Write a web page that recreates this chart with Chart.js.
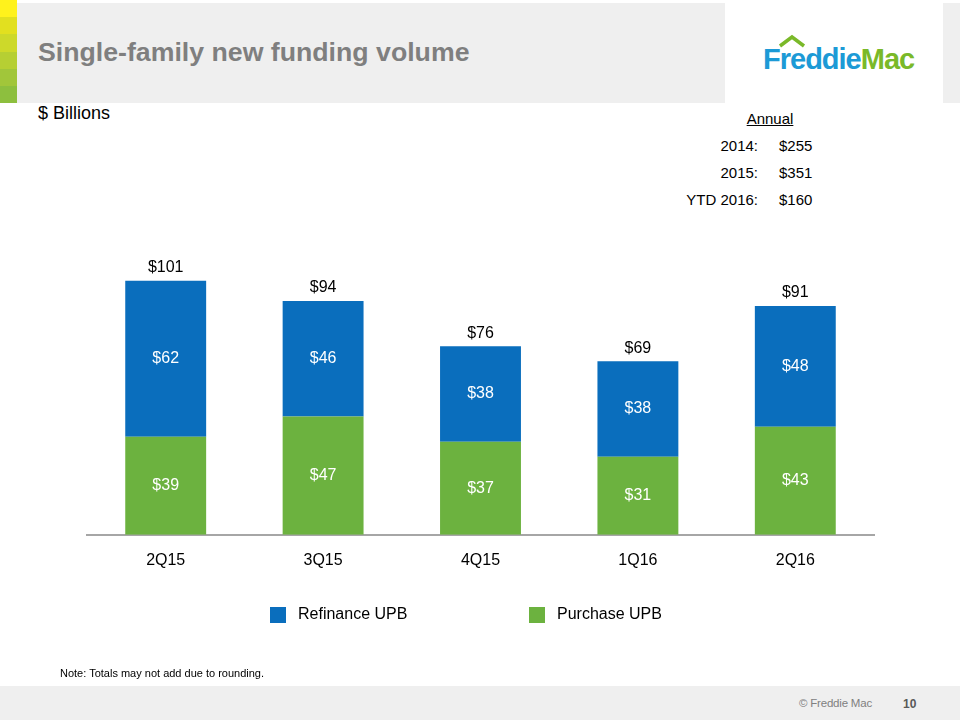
<!DOCTYPE html>
<html lang="en">
<head>
    <meta charset="UTF-8">
    <title>Single-family new funding volume</title>
    <style>
      body { margin: 0; width: 960px; height: 720px; position: relative; overflow: hidden; background: #fff; font-family: "Liberation Sans", Arial, sans-serif; }
      .abs { position: absolute; }
      #head { left: 17px; top: 3px; width: 708px; height: 100px; background: #efefef; }
      #headR { left: 943px; top: 3px; width: 17px; height: 100px; background: #efefef; }
      #strip { left: 0; top: 0; width: 17px; height: 103px; }
      #strip div { height: 17.2px; }
      #title { left: 38px; top: 37px; font-size: 26.7px; font-weight: bold; color: #7f7f7f; white-space: nowrap; }
      #units { left: 38px; top: 103px; font-size: 18px; color: #000; }
      #logo { left: 763px; top: 43px; font-size: 29px; font-weight: bold; letter-spacing: -1px; white-space: nowrap; }
      #annual { left: 680px; top: 110px; width: 160px; font-size: 15px; color: #000; }
      #annual .h { position: absolute; left: 50px; top: 0; width: 80px; text-align: center; text-decoration: underline; }
      #annual .r { position: absolute; left: 0; width: 152px; }
      #annual .r span.k { position: absolute; right: 74px; text-align: right; white-space: nowrap; }
      #annual .r span.v { position: absolute; left: 99px; }
      #legend div { position: absolute; font-size: 16px; color: #000; white-space: nowrap; }
      #legend i { position: absolute; width: 16px; height: 16px; }
      #note { left: 60px; top: 667px; font-size: 11px; color: #000; }
      #foot { left: 0; top: 686px; width: 960px; height: 34px; background: #efefef; }
      #copy { left: 799px; top: 697px; font-size: 11.5px; color: #808080; letter-spacing: -0.2px; }
      #page { left: 903px; top: 697px; font-size: 12px; font-weight: bold; color: #595959; }
    </style>
</head>
<body>
    <div class="abs" id="head"></div>
    <div class="abs" id="headR"></div>
    <div class="abs" id="strip">
      <div style="background:#fff21c"></div>
      <div style="background:#e2e01f"></div>
      <div style="background:#cdd92a"></div>
      <div style="background:#b6cf33"></div>
      <div style="background:#a1c63a"></div>
      <div style="background:#8dbf3e"></div>
    </div>
    <div class="abs" id="title">Single-family new funding volume</div>
    <div class="abs" id="logo"><span style="color:#1c9ad6">Freddie</span><span style="color:#7ab929">Mac</span></div>
    <svg class="abs" style="left:778px;top:34px" width="30" height="14"><polyline points="2,12 14,3 26,12" fill="none" stroke="#7ab929" stroke-width="3.5"/></svg>
    <div class="abs" id="units">$ Billions</div>

    <div class="abs" id="annual"></div>

    <canvas id="grafico1" class="abs" style="left:0;top:0" width="960" height="720"></canvas>

    <div class="abs" id="legend" style="left:0;top:0"></div>

    <div class="abs" id="note">Note: Totals may not add due to rounding.</div>
    <div class="abs" id="foot"></div>
    <div class="abs" id="copy">© Freddie Mac</div>
    <div class="abs" id="page">10</div>

    <script src="https://cdn.jsdelivr.net/npm/chart.js"></script>
    <script>
      const quarters = ['2Q15', '3Q15', '4Q15', '1Q16', '2Q16'];
      const refinance = [62, 46, 38, 38, 48];
      const purchase = [39, 47, 37, 31, 43];
      const totals = [101, 94, 76, 69, 91];

      const annualYears = ['2014:', '2015:', 'YTD 2016:'];
      const annualValues = [255, 351, 160];

      const blue = '#0a6ebd';
      const green = '#6cb23f';

      // annual box
      let annual = document.getElementById('annual');
      annual.innerHTML = '<div class="h">Annual</div>';
      annualYears.forEach((y, i) => {
        annual.innerHTML += '<div class="r" style="top:' + (27 * (i + 1)) + 'px"><span class="k">' + y +
          '</span><span class="v">$' + annualValues[i] + '</span></div>';
      });

      // legend
      const legendItems = [
        { label: 'Refinance UPB', color: blue, x: 270 },
        { label: 'Purchase UPB', color: green, x: 529 }
      ];
      let legend = document.getElementById('legend');
      legendItems.forEach(it => {
        legend.innerHTML += '<i style="left:' + it.x + 'px;top:607px;background:' + it.color + '"></i>' +
          '<div style="left:' + (it.x + 28) + 'px;top:605px">' + it.label + '</div>';
      });

      const valueLabels = {
        id: 'valueLabels',
        afterDatasetsDraw(chart) {
          const c = chart.ctx;
          c.save();
          c.font = '16px "Liberation Sans", Arial, sans-serif';
          c.textAlign = 'center';
          c.textBaseline = 'middle';
          chart.data.datasets.forEach((ds, i) => {
            chart.getDatasetMeta(i).data.forEach((bar, j) => {
              c.fillStyle = '#ffffff';
              c.fillText('$' + ds.data[j], bar.x, (bar.y + bar.base) / 2);
            });
          });
          const top = chart.getDatasetMeta(1).data;
          c.fillStyle = '#000000';
          top.forEach((bar, j) => {
            c.fillText('$' + totals[j], bar.x, bar.y - 13);
          });
          c.restore();
        }
      };

      const ctx = document.getElementById('grafico1');
      let grafico1 = new Chart(ctx, {
        type: 'bar',
        data: {
          labels: quarters,
          datasets: [
            { label: 'Purchase UPB', data: purchase, backgroundColor: green, categoryPercentage: 1, barPercentage: 0.514 },
            { label: 'Refinance UPB', data: refinance, backgroundColor: blue, categoryPercentage: 1, barPercentage: 0.514 }
          ]
        },
        options: {
          responsive: false,
          animation: false,
          layout: { padding: { left: 87, right: 86, top: 233, bottom: 134 } },
          plugins: { legend: { display: false }, tooltip: { enabled: false } },
          scales: {
            x: {
              stacked: true,
              grid: { display: false, drawTicks: false },
              border: { display: true, color: '#a6a6a6', width: 2 },
              ticks: { color: '#000', padding: 16, font: { size: 16, family: '"Liberation Sans", Arial, sans-serif' } }
            },
            y: {
              stacked: true,
              display: false,
              min: 0,
              max: 120
            }
          }
        },
        plugins: [valueLabels]
      });
    </script>
</body>
</html>
